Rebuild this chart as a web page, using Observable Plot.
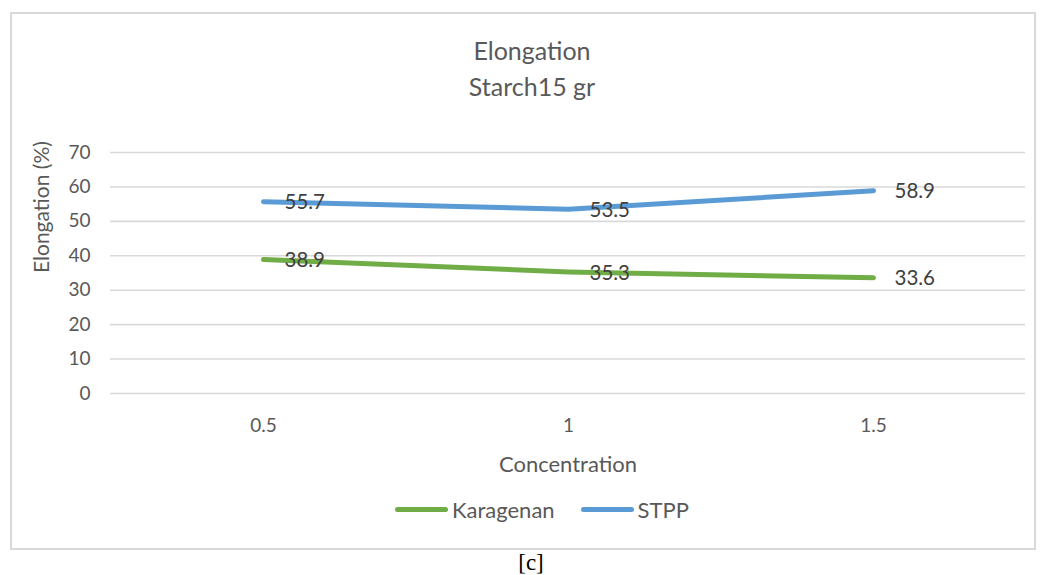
<!DOCTYPE html>
<html>
<head>
<meta charset="utf-8">
<script src="https://cdn.jsdelivr.net/npm/d3@7"></script>
<script src="https://cdn.jsdelivr.net/npm/@observablehq/plot@0.6"></script>
<style>
  html, body { margin: 0; padding: 0; background: #fff; }
  #wrap { position: relative; width: 1042px; height: 575px; overflow: hidden; font-family: Lato, "Noto Sans", sans-serif; }
  #frame { position: absolute; left: 10px; top: 12px; width: 1022px; height: 534px; border: 2px solid #d9d9d9; box-sizing: content-box; }
  #chart { position: absolute; left: 0; top: 0; }
  .title { position: absolute; left: 0; width: 1064px; text-align: center; color: #595959; font-size: 25px; }
  #legend { position: absolute; top: 496px; left: 0; width: 1084px; display: flex; justify-content: center; align-items: center; gap: 26px; color: #595959; font-size: 22px; }
  .item { display: flex; align-items: center; gap: 4px; }
  .sw { width: 53px; height: 5px; border-radius: 3px; }
  #caption { position: absolute; top: 550px; left: 0; width: 1062px; text-align: center; font-family: "Liberation Serif", "DejaVu Serif", serif; font-size: 23px; color: #000; }
</style>
</head>
<body>
<div id="wrap">
  <div id="frame"></div>
  <div id="chart"></div>
  <div class="title" style="top:35px">Elongation</div>
  <div class="title" style="top:71px">Starch15 gr</div>
  <div id="legend"></div>
  <div id="caption">[c]</div>
</div>
<script>
const concentrations = ["0.5", "1", "1.5"];
const seriesNames = ["Karagenan", "STPP"];
const karagenan = [38.9, 35.3, 33.6];
const stpp = [55.7, 53.5, 58.9];
const seriesColors = ["#70ad47", "#5b9bd5"];
const yTicks = [0, 10, 20, 30, 40, 50, 60, 70];

const data = [];
concentrations.forEach((c, i) => {
  data.push({ c, v: karagenan[i], s: seriesNames[0] });
  data.push({ c, v: stpp[i], s: seriesNames[1] });
});

const chart = Plot.plot({
  width: 1042,
  height: 575,
  marginLeft: 110,
  marginRight: 17,
  marginTop: 152,
  marginBottom: 182,
  style: { fontFamily: "Lato, 'Noto Sans', sans-serif", background: "transparent", overflow: "visible" },
  x: { type: "point", domain: concentrations, padding: 0.5 },
  y: { domain: [0, 70] },
  color: { domain: seriesNames, range: seriesColors },
  marks: [
    Plot.gridY(yTicks, { stroke: "#d9d9d9", strokeOpacity: 1, strokeWidth: 1.6 }),
    Plot.axisY(yTicks, { tickSize: 0, tickPadding: 20, fontSize: 19, fill: "#595959", label: null }),
    Plot.axisX({ tickSize: 0, tickPadding: 25, fontSize: 19, fill: "#595959", label: null }),
    Plot.text(["Elongation (%)"], { frameAnchor: "left", dx: -68, rotate: -90, fontSize: 21, fill: "#595959" }),
    Plot.text(["Concentration"], { frameAnchor: "bottom", dy: 78, fontSize: 22, fill: "#595959" }),
    Plot.line(data, { x: "c", y: "v", z: "s", stroke: "s", strokeWidth: 5, curve: "linear", strokeLinecap: "round", strokeLinejoin: "round" }),
    Plot.text(data, { x: "c", y: "v", text: d => d.v.toFixed(1), textAnchor: "start", dx: 21, dy: 1, fontSize: 20.5, fill: "#404040" })
  ]
});
document.getElementById("chart").appendChild(chart);

const legend = document.getElementById("legend");
seriesNames.forEach((name, i) => {
  const it = document.createElement("div");
  it.className = "item";
  it.innerHTML = `<div class="sw" style="background:${seriesColors[i]}"></div><span>${name}</span>`;
  legend.appendChild(it);
});
</script>
</body>
</html>
